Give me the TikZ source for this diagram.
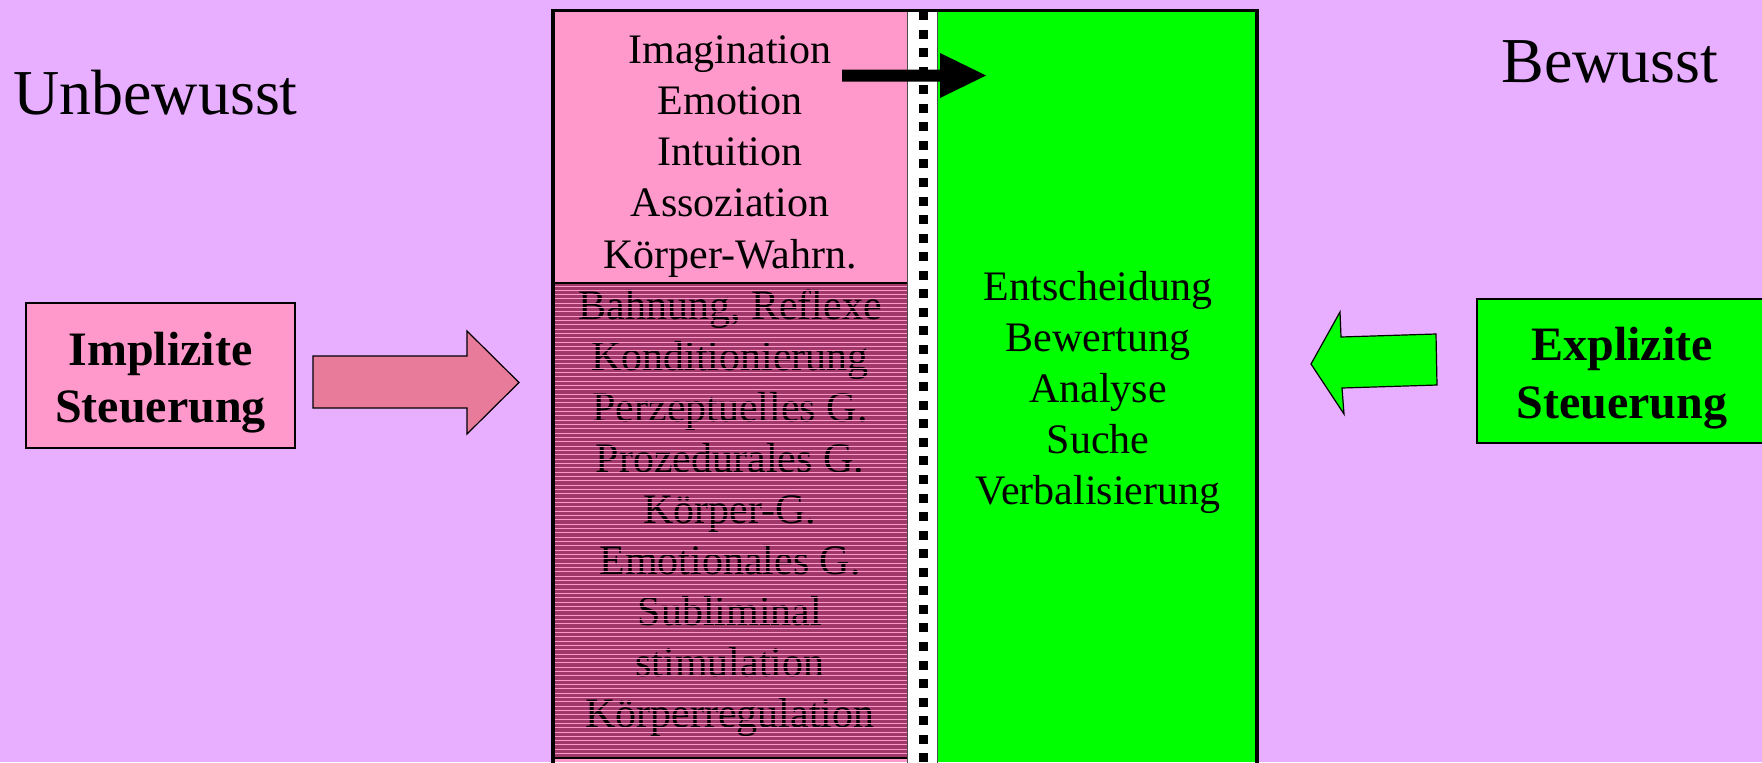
\documentclass[tikz,border=0pt]{standalone}
\usepackage{fontspec}
\setmainfont{Liberation Serif}
\definecolor{bg}{HTML}{E8AEFF}
\definecolor{lpink}{HTML}{FF99CC}
\definecolor{dmag}{HTML}{A0386A}
\definecolor{arrpink}{HTML}{E87A9A}
\definecolor{lgreen}{HTML}{00FF00}
\begin{document}
\begin{tikzpicture}[x=0.5pt,y=-0.5pt,
  txt/.style={anchor=base,inner sep=0pt,font=\fontsize{21}{25}\selectfont},
  bigtxt/.style={anchor=base,inner sep=0pt,font=\fontsize{32}{38}\selectfont},
  boldtxt/.style={anchor=base,inner sep=0pt,font=\fontsize{24}{29}\selectfont\bfseries},
  thinline/.style={draw=black,line width=0.6pt}]
\useasboundingbox (0,0) rectangle (1762,762);
\clip (0,0) rectangle (1762,762);
\fill[bg] (0,0) rectangle (1762,762);

% titles
\node[bigtxt] (unb) at (155.5,114) {Unbewusst};
\node[bigtxt] (bew) at (1610,82) {Bewusst};

% implicit box
\filldraw[fill=lpink,thinline] (26,303) rectangle (295,448);
\node[boldtxt] (imp1) at (160.5,365) {Implizite};
\node[boldtxt] (imp2) at (160.5,422) {Steuerung};

% explicit box
\filldraw[fill=lgreen,thinline] (1477,299) rectangle (1800,443);
\node[boldtxt] (exp1) at (1622,360) {Explizite};
\node[boldtxt] (exp2) at (1622,418) {Steuerung};

% pink block arrow
\filldraw[fill=arrpink,thinline] (313,356) -- (467,356) -- (467,331) -- (519,382.5)
  -- (467,434) -- (467,408) -- (313,408) -- cycle;

% green block arrow
\filldraw[fill=lgreen,thinline] (1311,364) -- (1340,312) -- (1341,337) -- (1436,334)
  -- (1437,385) -- (1342,388) -- (1344,414) -- cycle;

% central column
\fill[lpink] (555,12) rectangle (907,762);
\fill[dmag] (555,283) rectangle (907,758);
\fill[lgreen] (937,12) rectangle (1257,762);
\filldraw[fill=white,draw=black!70,line width=0.5pt] (907,11) rectangle (937,770);
\foreach \k in {-1,...,40}
  \fill[black] (919,{29.5+18.56*\k}) rectangle +(9,9);

% upper pink texts
\foreach \t [count=\i from 0] in {Imagination,Emotion,Intuition,Assoziation,Körper-Wahrn.}
  \node[txt] (u\i) at (730,{63+51.25*\i}) {\t};

% hatched texts
\foreach \t [count=\i from 0] in {{Bahnung, Reflexe},Konditionierung,Perzeptuelles G.,Prozedurales G.,Körper-G.,Emotionales G.,Subliminal,stimulation,Körperregulation}
  \node[txt,text=black] (h\i) at (730,{319+51*\i}) {\t};
\foreach \k in {0,...,109}
  \draw[lpink,line width=0.5pt] (555,{286+4.33*\k}) -- (907,{286+4.33*\k});

% green texts
\foreach \t [count=\i from 0] in {Entscheidung,Bewertung,Analyse,Suche,Verbalisierung}
  \node[txt] (g\i) at (1098,{300+51.2*\i}) {\t};

% separators and outer box
\draw[black,line width=1pt] (555,283) -- (907,283);
\draw[black,line width=1pt] (555,758) -- (907,758);
\draw[black,line width=1.75pt] (553,800) -- (553,10.5) -- (1257,10.5) -- (1257,800);

% black arrow
\fill[black] (842,69.5) -- (940,69.5) -- (940,53) -- (986,75.5) -- (940,98) -- (940,81.5) -- (842,81.5) -- cycle;
\end{tikzpicture}
\end{document}
